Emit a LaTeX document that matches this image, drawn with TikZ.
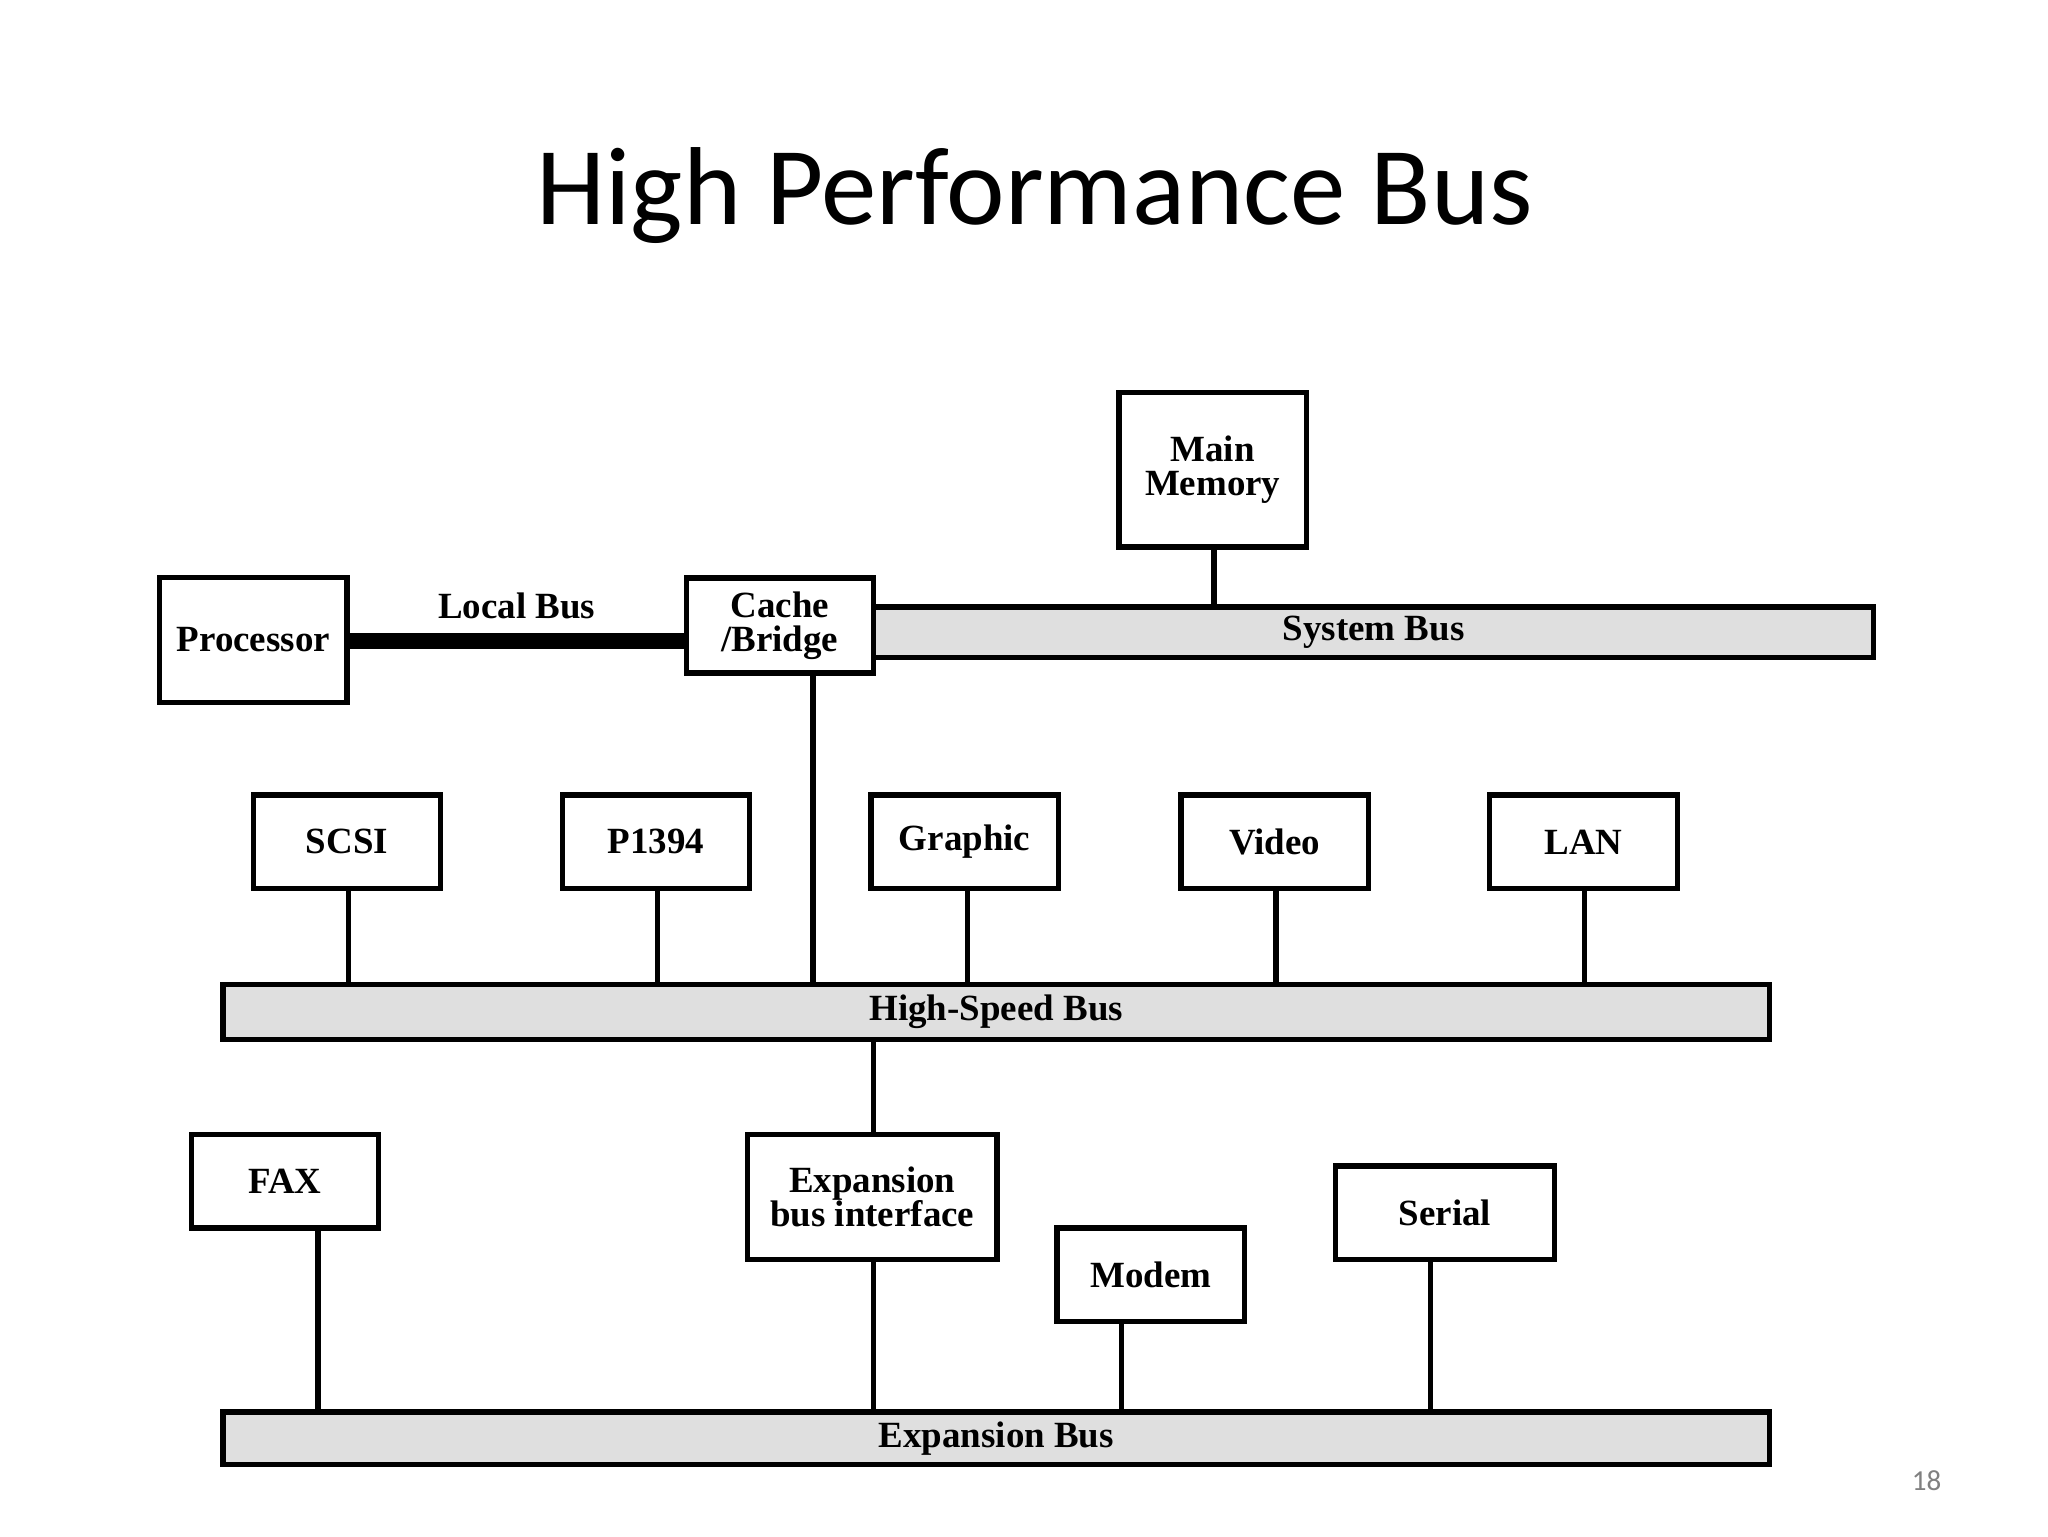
\documentclass[tikz,border=0pt]{standalone}
\usepackage{fontspec}
\setmainfont{Liberation Serif}
\newfontfamily\titlefont{Carlito}
\begin{document}
\begin{tikzpicture}[x=0.5pt,y=-0.5pt,
  box/.style={draw,line width=2pt,fill=white,font=\bfseries\fontsize{14}{15}\selectfont,align=center,inner sep=0pt},
  bus/.style={draw,line width=2pt,fill=gray!25,font=\bfseries\fontsize{14}{15}\selectfont,inner sep=0pt},
  wire/.style={line width=2pt}]
\useasboundingbox (0,0) rectangle (1552,1164);
\node[font=\titlefont\fontsize{42}{46}\selectfont] (title) at (784,148) {High Performance Bus};
\node[font=\titlefont\fontsize{11}{12}\selectfont,text=gray] (pg) at (1460,1122) {18};
% buses
\node[bus,minimum width=379pt,minimum height=19pt] (sys) at (1041,479) {System Bus};
\node[bus,minimum width=586pt,minimum height=21pt] (hs) at (755,767) {High-Speed Bus};
\node[bus,minimum width=586pt,minimum height=20pt] (exp) at (755,1090) {Expansion Bus};
% boxes
\node[box,minimum width=71pt,minimum height=58.5pt] (mm) at (919,356) {Main\\[-2pt]Memory};
\node[box,minimum width=71pt,minimum height=47.5pt] (proc) at (192,485) {Processor};
\node[box,minimum width=71pt,minimum height=36pt] (cache) at (591,474) {Cache\\[-2pt]/Bridge};
\node[box,minimum width=71pt,minimum height=35.5pt] (scsi) at (263,638) {SCSI};
\node[box,minimum width=71pt,minimum height=35.5pt] (p1394) at (497,638) {P1394};
\node[box,minimum width=71pt,minimum height=35.5pt] (gra) at (731,638) {Graphic};
\node[box,minimum width=71pt,minimum height=35.5pt] (vid) at (966,638) {Video};
\node[box,minimum width=71pt,minimum height=35.5pt] (lan) at (1200,638) {LAN};
\node[box,minimum width=71pt,minimum height=35.5pt] (fax) at (216,895) {FAX};
\node[box,minimum width=94.5pt,minimum height=47.5pt] (ebi) at (661,907) {Expansion\\[-2pt]bus interface};
\node[box,minimum width=71pt,minimum height=35.5pt] (modem) at (872,966) {Modem};
\node[box,minimum width=83pt,minimum height=35.5pt] (serial) at (1095,919) {Serial};
% connectors
\draw[line width=6pt] (proc.east |- 0,486) -- (cache.west |- 0,486) node[midway,above=2pt,font=\bfseries\fontsize{14}{15}\selectfont] {Local Bus};
\draw[wire] (mm.south -| 920,0) -- (sys.north -| 920,0);
\draw[wire] (cache.south -| 616,0) -- (hs.north -| 616,0);
\draw[wire] (scsi.south -| 264,0) -- (hs.north -| 264,0);
\draw[wire] (p1394.south -| 498,0) -- (hs.north -| 498,0);
\draw[wire] (gra.south -| 733,0) -- (hs.north -| 733,0);
\draw[wire] (vid.south -| 967,0) -- (hs.north -| 967,0);
\draw[wire] (lan.south -| 1201,0) -- (hs.north -| 1201,0);
\draw[wire] (hs.south -| 662,0) -- (ebi.north -| 662,0);
\draw[wire] (ebi.south -| 662,0) -- (exp.north -| 662,0);
\draw[wire] (fax.south -| 241,0) -- (exp.north -| 241,0);
\draw[wire] (modem.south -| 850,0) -- (exp.north -| 850,0);
\draw[wire] (serial.south -| 1084,0) -- (exp.north -| 1084,0);
\end{tikzpicture}
\end{document}
